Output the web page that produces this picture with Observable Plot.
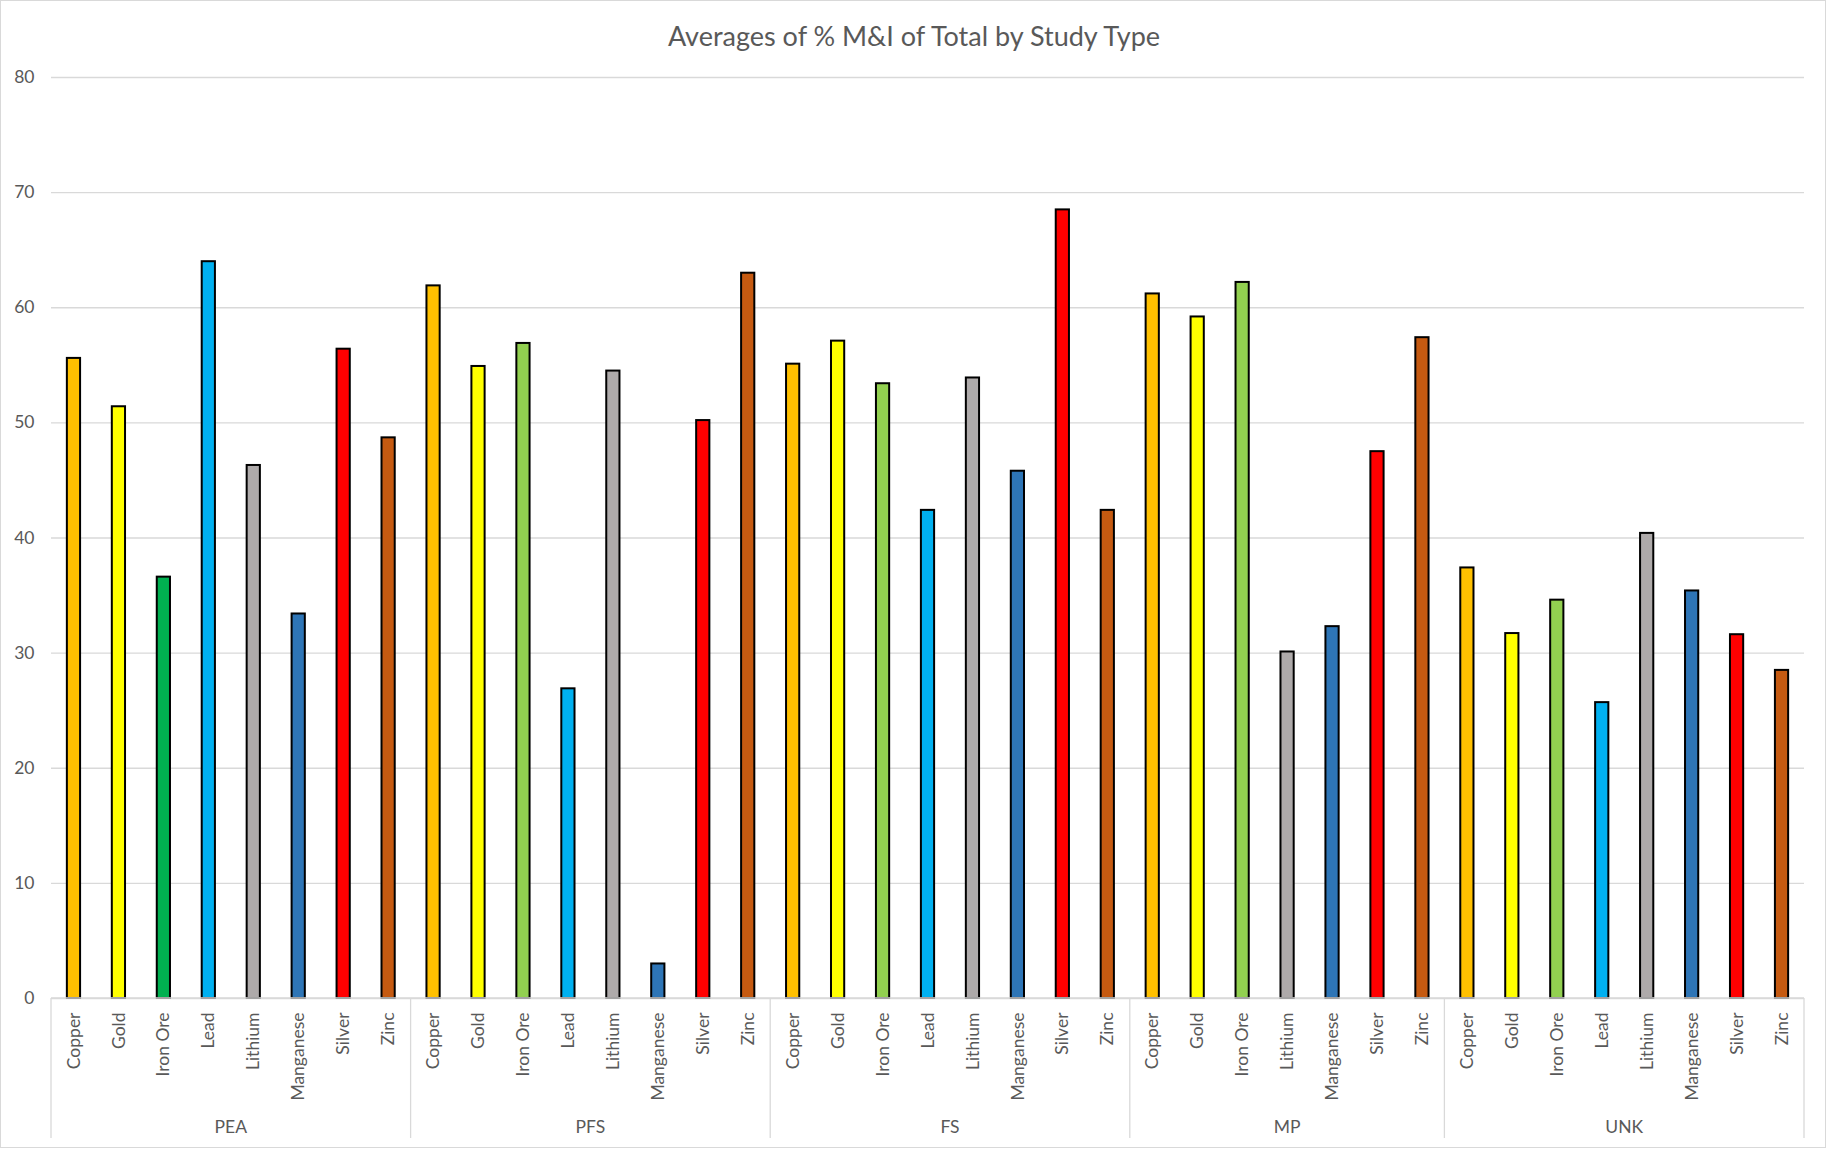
<!DOCTYPE html>
<html>
<head>
<meta charset="utf-8">
<script src="https://cdn.jsdelivr.net/npm/d3@7"></script>
<script src="https://cdn.jsdelivr.net/npm/@observablehq/plot@0.6"></script>
<style>
  html, body { margin: 0; padding: 0; background: #fff; }
  #frame { position: absolute; left: 0; top: 0; width: 1826px; height: 1148px; border: 1px solid #d9d9d9; box-sizing: border-box; background: #fff; overflow: hidden; }
  #title { position: absolute; left: 0; top: 0; width: 1828px; height: 71px; line-height: 71px; text-align: center; font-family: Lato, "Open Sans", sans-serif; font-size: 27px; color: #595959; }
  #chart { position: absolute; left: 0; top: 60px; }
</style>
</head>
<body>
<div id="frame"></div>
<div id="title">Averages of % M&amp;I of Total by Study Type</div>
<div id="chart"></div>
<script>
// ---- data ----
const studyTypes = ["PEA", "PFS", "FS", "MP", "UNK"];
const minerals = ["Copper", "Gold", "Iron Ore", "Lead", "Lithium", "Manganese", "Silver", "Zinc"];
const mpMinerals = ["Copper", "Gold", "Iron Ore", "Lithium", "Manganese", "Silver", "Zinc"];
const peaValues = [55.6, 51.4, 36.6, 64.0, 46.3, 33.4, 56.4, 48.7];
const pfsValues = [61.9, 54.9, 56.9, 26.9, 54.5, 3.0, 50.2, 63.0];
const fsValues  = [55.1, 57.1, 53.4, 42.4, 53.9, 45.8, 68.5, 42.4];
const mpValues  = [61.2, 59.2, 62.2, 30.1, 32.3, 47.5, 57.4];
const unkValues = [37.4, 31.7, 34.6, 25.7, 40.4, 35.4, 31.6, 28.5];
const yTicks = [0, 10, 20, 30, 40, 50, 60, 70, 80];

// ---- styles ----
const mineralColors = {
  "Copper": "#FFC000", "Gold": "#FFFF00", "Iron Ore": "#92D050", "Lead": "#00B0F0",
  "Lithium": "#AEAAAA", "Manganese": "#2E75B6", "Silver": "#FF0000", "Zinc": "#C55A11"
};
const colorOverrides = { "PEA|Iron Ore": "#00B050" };
const textColor = "#595959";
const gridColor = "#d9d9d9";
const fontFamily = "Lato, 'Open Sans', sans-serif";
const axisFont = 17.5;

// ---- table ----
const groupMinerals = [minerals, minerals, minerals, mpMinerals, minerals];
const groupValues = [peaValues, pfsValues, fsValues, mpValues, unkValues];
const rows = [];
studyTypes.forEach((s, gi) => {
  groupMinerals[gi].forEach((m, mi) => {
    rows.push({ key: s + "|" + m, study: s, mineral: m, value: groupValues[gi][mi] });
  });
});
const keys = rows.map(d => d.key);

const plot = Plot.plot({
  width: 1828,
  height: 1086,
  marginTop: 17,
  marginBottom: 148,
  marginLeft: 51,
  marginRight: 24,
  style: { fontFamily, fontSize: axisFont + "px", color: textColor, background: "transparent" },
  x: { type: "band", domain: keys, paddingInner: 0.706, paddingOuter: 0.353, align: 0.5, label: null },
  y: { domain: [0, 80], label: null },
  marks: [
    Plot.gridY(yTicks, { stroke: gridColor, strokeOpacity: 1, strokeWidth: 1.3 }),
    Plot.axisY(yTicks, { tickSize: 0, tickPadding: 17, fontSize: axisFont, fill: textColor, label: null }),
    Plot.axisX({
      tickSize: 0, tickPadding: 14, tickRotate: -90, fontSize: axisFont, fill: textColor, label: null,
      tickFormat: k => k.split("|")[1]
    }),
    Plot.barY(rows, {
      x: "key", y: "value",
      fill: d => colorOverrides[d.key] || mineralColors[d.mineral],
      stroke: "black", strokeWidth: 2
    })
  ]
});
document.getElementById("chart").appendChild(plot);

// group separators and labels, positioned with the plot's own scales
const xs = plot.scale("x");
const ys = plot.scale("y");
const step = xs.step;
const y0 = ys.apply(0);
const svg = d3.select(plot);
const g = svg.append("g");
const bounds = [];
const groups = [];
studyTypes.forEach(s => {
  const ks = keys.filter(k => k.startsWith(s + "|"));
  const first = xs.apply(ks[0]) + xs.bandwidth / 2 - step / 2;
  const last = xs.apply(ks[ks.length - 1]) + xs.bandwidth / 2 + step / 2;
  groups.push({ s, first, last });
  bounds.push(first, last);
});
// zero line across the category axis
g.append("line").attr("x1", groups[0].first).attr("x2", groups[groups.length - 1].last)
  .attr("y1", y0).attr("y2", y0).attr("stroke", gridColor).attr("stroke-width", 1.3);
Array.from(new Set(bounds.map(b => Math.round(b * 10) / 10))).forEach(b => {
  g.append("line").attr("x1", b).attr("x2", b).attr("y1", y0).attr("y2", y0 + 140)
    .attr("stroke", gridColor).attr("stroke-width", 1.3);
});
groups.forEach(gr => {
  g.append("text").attr("x", (gr.first + gr.last) / 2).attr("y", y0 + 131)
    .attr("text-anchor", "middle").attr("dominant-baseline", "middle")
    .attr("fill", textColor).attr("font-size", axisFont).attr("font-family", fontFamily)
    .text(gr.s);
});
</script>
</body>
</html>
